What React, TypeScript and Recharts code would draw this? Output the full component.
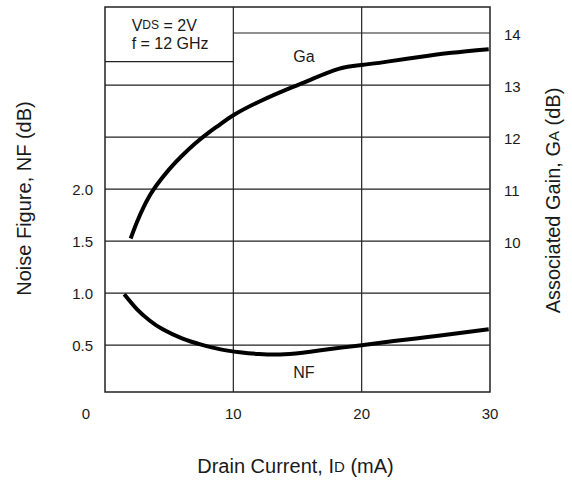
import React from 'react';
import { LineChart, Line, XAxis, YAxis, ReferenceLine, ReferenceArea, ReferenceDot, Label } from 'recharts';

const FONT = '"Liberation Sans", Arial, Helvetica, sans-serif';
const INK = '#1a1a1a';

// Drain current (mA) sample points and readings
const CURRENT_GA = [2.0, 2.5, 3.0, 3.5, 4.0, 5.0, 6.0, 7.0, 8.0, 9.0, 10.0, 12.0, 14.6, 16.0, 18.2, 20.0, 22.0, 24.5, 27.0, 29.9];
const GAIN_DB = [10.05, 10.37, 10.65, 10.88, 11.07, 11.38, 11.64, 11.87, 12.07, 12.25, 12.42, 12.68, 12.96, 13.1, 13.31, 13.385, 13.45, 13.54, 13.62, 13.69];
const CURRENT_NF = [1.5, 2.5, 3.5, 4.5, 6.0, 7.5, 9.0, 10.5, 12.0, 14.0, 16.0, 18.0, 20.0, 22.5, 25.0, 27.5, 29.9];
const NF_DB = [0.99, 0.845, 0.735, 0.652, 0.565, 0.505, 0.46, 0.432, 0.415, 0.412, 0.437, 0.47, 0.5, 0.54, 0.576, 0.615, 0.652];

const X_TICKS = [0, 10, 20, 30];
const NF_TICKS = [0.5, 1.0, 1.5, 2.0];
const GA_TICKS = [10, 11, 12, 13, 14];
const NF_DOMAIN = [0.05, 3.75];
const GA_DOMAIN = [7.1, 14.5];

const gaData = CURRENT_GA.map((x, i) => ({ x, ga: GAIN_DB[i] }));
const nfData = CURRENT_NF.map((x, i) => ({ x, nf: NF_DB[i] }));

const XTick = (p: any) => (
  <text x={p.x + (p.payload.value === 0 ? -19 : 0)} y={p.y + 21} textAnchor="middle" dominantBaseline="central"
    fontFamily={FONT} fontSize={15} fill={INK}>{p.payload.value}</text>
);
const NFTick = (p: any) => (
  <text x={p.x - 12} y={p.y} textAnchor="end" dominantBaseline="central"
    fontFamily={FONT} fontSize={15} fill={INK}>{Number(p.payload.value).toFixed(1)}</text>
);
const GATick = (p: any) => (
  <text x={p.x + 14} y={p.y + 1} textAnchor="start" dominantBaseline="central"
    fontFamily={FONT} fontSize={15} fill={INK}>{p.payload.value}</text>
);

const XTitle = (p: any) => {
  const vb = p.viewBox;
  return (
    <text x={vb.x + vb.width / 2 - 2} y={vb.y + 74} textAnchor="middle" dominantBaseline="central"
      fontFamily={FONT} fontSize={20} fill={INK}>
      Drain Current, I<tspan fontSize={15}>D</tspan> (mA)
    </text>
  );
};
const NFTitle = (p: any) => {
  const vb = p.viewBox;
  const cx = 24, cy = vb.y + vb.height / 2 - 1;
  return (
    <text x={cx} y={cy} transform={`rotate(-90 ${cx} ${cy})`} textAnchor="middle" dominantBaseline="central"
      fontFamily={FONT} fontSize={20} fill={INK}>Noise Figure, NF (dB)</text>
  );
};
const GATitle = (p: any) => {
  const vb = p.viewBox;
  const cx = vb.x + 63, cy = vb.y + vb.height / 2 + 1;
  return (
    <text x={cx} y={cy} transform={`rotate(-90 ${cx} ${cy})`} textAnchor="middle" dominantBaseline="central"
      fontFamily={FONT} fontSize={20} fill={INK}>
      Associated Gain, G<tspan fontSize={15}>A</tspan> (dB)
    </text>
  );
};

const Note = (anchor: 'start' | 'middle', children: React.ReactNode) => (p: any) => {
  const vb = p.viewBox;
  return (
    <text x={vb.x + vb.width / 2} y={vb.y + vb.height / 2} textAnchor={anchor} dominantBaseline="central"
      fontFamily={FONT} fontSize={16} fill={INK}>{children}</text>
  );
};

const gridStroke = { stroke: '#222', strokeWidth: 1.2 };

export default function App() {
  return (
    <div style={{ position: 'absolute', left: 0, top: 0, background: '#fff' }}>
      <LineChart width={572} height={481} margin={{ top: 7, right: 0, bottom: 0, left: 0 }}>
        <XAxis dataKey="x" type="number" domain={[0, 30]} ticks={X_TICKS} allowDataOverflow
          axisLine={false} tickLine={false} tickSize={0} tickMargin={0} height={89} tick={<XTick />}
          label={<Label content={<XTitle />} />} />
        <YAxis yAxisId="nf" orientation="left" type="number" domain={NF_DOMAIN} ticks={NF_TICKS} allowDataOverflow
          axisLine={false} tickLine={false} tickSize={0} tickMargin={0} width={105} tick={<NFTick />}
          label={<Label content={<NFTitle />} />} />
        <YAxis yAxisId="ga" orientation="right" type="number" domain={GA_DOMAIN} ticks={GA_TICKS} allowDataOverflow
          axisLine={false} tickLine={false} tickSize={0} tickMargin={0} width={82} tick={<GATick />}
          label={<Label content={<GATitle />} />} />

        {NF_TICKS.map((v) => (
          <ReferenceLine key={'nf' + v} yAxisId="nf" y={v} {...gridStroke} ifOverflow="visible" />
        ))}
        <ReferenceLine yAxisId="ga" y={12} {...gridStroke} />
        <ReferenceLine yAxisId="ga" y={13} {...gridStroke} />
        <ReferenceLine yAxisId="ga" segment={[{ x: 10, y: 14 }, { x: 30, y: 14 }]} {...gridStroke} />
        <ReferenceLine yAxisId="ga" segment={[{ x: 0, y: 13.45 }, { x: 10, y: 13.45 }]} {...gridStroke} />
        <ReferenceLine yAxisId="nf" x={10} {...gridStroke} />
        <ReferenceLine yAxisId="nf" x={20} {...gridStroke} />
        <ReferenceArea yAxisId="nf" x1={0} x2={30} y1={NF_DOMAIN[0]} y2={NF_DOMAIN[1]} fill="none"
          stroke="#222" strokeWidth={1.5} fillOpacity={0} ifOverflow="visible" />

        <Line yAxisId="ga" data={gaData} dataKey="ga" type="natural" stroke="#000" strokeWidth={4}
          dot={false} activeDot={false} isAnimationActive={false} />
        <Line yAxisId="nf" data={nfData} dataKey="nf" type="natural" stroke="#000" strokeWidth={4}
          dot={false} activeDot={false} isAnimationActive={false} />

        <ReferenceDot yAxisId="nf" x={2.08} y={3.575} r={1} fill="none" stroke="none"
          label={<Label content={Note('start', <>V<tspan fontSize={12}>DS</tspan> = 2V</>)} />} />
        <ReferenceDot yAxisId="nf" x={2.08} y={3.404} r={1} fill="none" stroke="none"
          label={<Label content={Note('start', 'f = 12 GHz')} />} />
        <ReferenceDot yAxisId="ga" x={15.5} y={13.54} r={1} fill="none" stroke="none"
          label={<Label content={Note('middle', 'Ga')} />} />
        <ReferenceDot yAxisId="nf" x={15.5} y={0.236} r={1} fill="none" stroke="none"
          label={<Label content={Note('middle', 'NF')} />} />
      </LineChart>
    </div>
  );
}
